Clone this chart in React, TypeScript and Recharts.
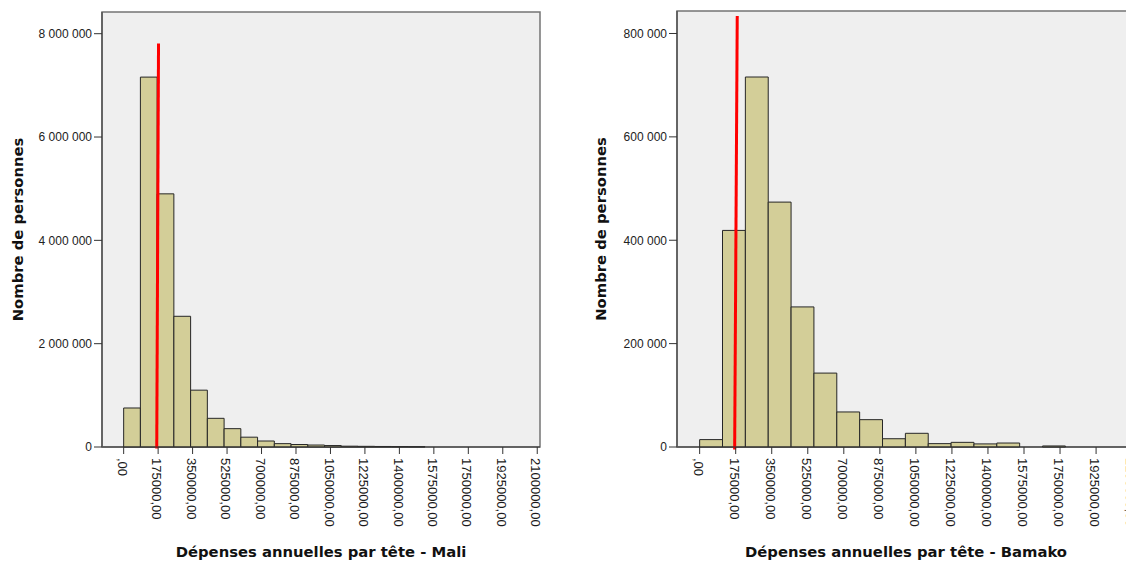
import React from "react";
import {
  ComposedChart,
  Bar,
  XAxis,
  YAxis,
  CartesianGrid,
  ReferenceLine,
  ReferenceArea,
  Label,
} from "recharts";

const maliBinWidth = 85000;
const maliCounts = [
  755000, 7160000, 4900000, 2530000, 1100000, 555000, 355000, 190000, 116000,
  65000, 48000, 38000, 28000, 16000, 13000, 10000, 8000, 6000,
];

const bamakoBinWidth = 111000;
const bamakoCounts = [
  14300, 419000, 715800, 473800, 271000, 143000, 67800, 52900, 16000, 26500,
  6500, 9000, 6000, 7700, 0, 2000,
];

const xTicks = [
  0, 175000, 350000, 525000, 700000, 875000, 1050000, 1225000, 1400000,
  1575000, 1750000, 1925000, 2100000,
];
const xDomain = [-110000, 2114000];

const maliYTicks = [0, 2000000, 4000000, 6000000, 8000000];
const maliYMax = 8420000;
const bamakoYTicks = [0, 200000, 400000, 600000, 800000];
const bamakoYMax = 843500;

// seuil de pauvreté (trait rouge, un peu penché comme sur l'original)
const maliLine = [
  { x: 168000, y: -30000 },
  { x: 177000, y: 7810000 },
];
const bamakoLine = [
  { x: 170000, y: -5000 },
  { x: 182500, y: 834000 },
];

const tickFont = "'Liberation Sans', Arial, sans-serif";
const titleFont = "'DejaVu Sans', Verdana, sans-serif";

const fmtY = (v: number) => String(v).replace(/\B(?=(\d{3})+(?!\d))/g, " ");
const fmtX = (v: number) => (v === 0 ? ",00" : `${v},00`);

function RotTick(props: any) {
  const { x, y, payload } = props;
  return (
    <text
      x={x}
      y={y}
      dy="0.45em"
      transform={`rotate(90, ${x}, ${y})`}
      textAnchor="start"
      fontSize={13}
      fill="#1a1a1a"
      fontFamily={tickFont}
    >
      {fmtX(payload.value)}
    </text>
  );
}

interface HistProps {
  counts: number[];
  binWidth: number;
  yMax: number;
  yTicks: number[];
  line: { x: number; y: number }[];
  title: string;
  width: number;
  yAxisWidth: number;
  top: number;
  yTitleX: number;
}

function Histogram({ counts, binWidth, yMax, yTicks, line, title, width, yAxisWidth, top, yTitleX }: HistProps) {
  const margin = { top, right: 20, bottom: 0, left: 0 };
  const data = counts.map((c, i) => ({ mid: (i + 0.5) * binWidth, count: c }));
  const plotWidth = width - margin.right - yAxisWidth;
  const barSize = (binWidth / (xDomain[1] - xDomain[0])) * plotWidth - 0.01;

  return (
    <ComposedChart width={width} height={562} data={data} margin={margin}>
      <CartesianGrid fill="#efefef" stroke="none" />
      <XAxis
        dataKey="mid"
        type="number"
        domain={xDomain}
        ticks={xTicks}
        interval={0}
        allowDataOverflow
        height={115}
        tickSize={7}
        tickMargin={4}
        tick={(p: any) => <RotTick {...p} />}
        axisLine={{ stroke: "#333" }}
        tickLine={{ stroke: "#333" }}
      >
        <Label
          content={(p: any) => {
            const vb = p.viewBox || {};
            return (
              <text
                x={vb.x + vb.width / 2}
                y={vb.y + 110}
                textAnchor="middle"
                fontSize={14.8}
                fontWeight="bold"
                fontFamily={titleFont}
                fill="#111"
              >
                {title}
              </text>
            );
          }}
        />
      </XAxis>
      <YAxis
        type="number"
        domain={[0, yMax]}
        ticks={yTicks}
        interval={0}
        width={yAxisWidth}
        tickSize={8}
        tickMargin={2}
        tickFormatter={fmtY}
        tick={{ fontSize: 12, fill: "#222", fontFamily: tickFont }}
        axisLine={{ stroke: "#555", strokeWidth: 1.5 }}
        tickLine={{ stroke: "#333" }}
      >
        <Label
          content={(p: any) => {
            const vb = p.viewBox || {};
            const cx = vb.x + yTitleX;
            const cy = vb.y + vb.height / 2;
            return (
              <text
                x={cx}
                y={cy}
                transform={`rotate(-90, ${cx}, ${cy})`}
                textAnchor="middle"
                dominantBaseline="central"
                fontSize={14.8}
                fontWeight="bold"
                fontFamily={titleFont}
                fill="#111"
              >
                Nombre de personnes
              </text>
            );
          }}
        />
      </YAxis>
      <ReferenceArea
        x1={xDomain[0]}
        x2={xDomain[1]}
        y1={0}
        y2={yMax}
        fill="none"
        stroke="#747474"
        strokeWidth={1.5}
      />
      <Bar
        dataKey="count"
        barSize={barSize}
        fill="#d3ce98"
        stroke="#262626"
        strokeWidth={1}
        isAnimationActive={false}
      />
      <ReferenceLine segment={line} stroke="#ff0000" strokeWidth={3} ifOverflow="visible" />
    </ComposedChart>
  );
}

export default function App() {
  return (
    <div
      style={{
        position: "fixed",
        left: 0,
        top: 0,
        width: 1126,
        height: 562,
        overflow: "hidden",
        background: "#fff",
      }}
    >
      <div style={{ position: "absolute", left: 0, top: 0 }}>
        <Histogram
          counts={maliCounts}
          binWidth={maliBinWidth}
          yMax={maliYMax}
          yTicks={maliYTicks}
          line={maliLine}
          title="Dépenses annuelles par tête - Mali"
          width={560}
          yAxisWidth={102}
          top={12}
          yTitleX={17}
        />
      </div>
      <div style={{ position: "absolute", left: 560, top: 0 }}>
        <Histogram
          counts={bamakoCounts}
          binWidth={bamakoBinWidth}
          yMax={bamakoYMax}
          yTicks={bamakoYTicks}
          line={bamakoLine}
          title="Dépenses annuelles par tête - Bamako"
          width={595}
          yAxisWidth={117}
          top={11}
          yTitleX={40}
        />
      </div>
    </div>
  );
}
